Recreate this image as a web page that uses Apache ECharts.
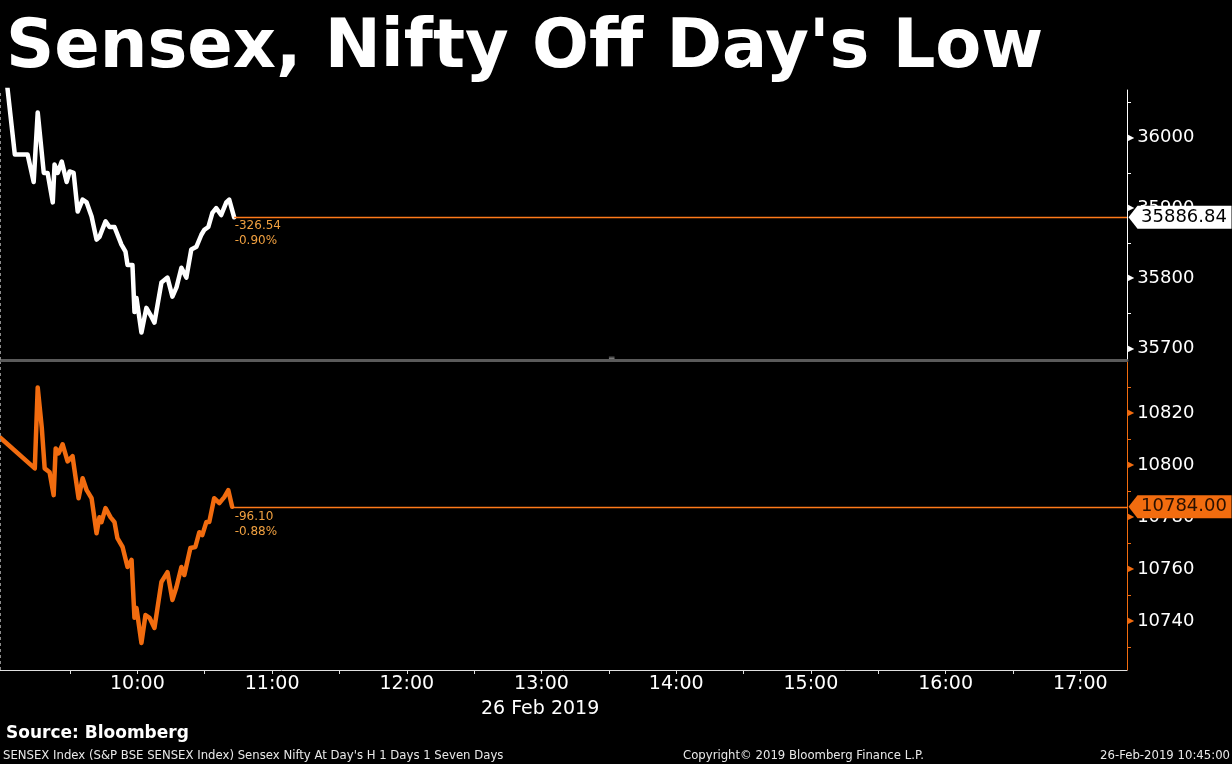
<!DOCTYPE html>
<html>
<head>
<meta charset="utf-8">
<script src="https://cdn.jsdelivr.net/npm/echarts@6/dist/echarts.min.js"></script>
<style>
html,body{margin:0;padding:0;background:#000;}
#c{width:1232px;height:764px;}
</style>
</head>
<body>
<div id="c"></div>
<script>
// ---------- data ----------
const titleText = "Sensex, Nifty Off Day's Low";
const dateText = "26 Feb 2019";
const sourceText = "Source: Bloomberg";
const footerLeft = "SENSEX Index (S&P BSE SENSEX Index) Sensex Nifty At Day's H 1 Days 1 Seven Days";
const footerMid = "Copyright\u00a9 2019 Bloomberg Finance L.P.";
const footerRight = "26-Feb-2019 10:45:00";

const axisStart = "08:58:48";
const axisEnd = "17:20:48";
const dayMarker = "08:59:00";
const hourLabels = ["10:00","11:00","12:00","13:00","14:00","15:00","16:00","17:00"];
const halfHourTicks = ["09:30","10:00","10:30","11:00","11:30","12:00","12:30","13:00","13:30","14:00","14:30","15:00","15:30","16:00","16:30","17:00"];

const sensexTickLabels = [35700, 35800, 35900, 36000];
const sensexMinorTicks = [35700, 35750, 35800, 35850, 35900, 35950, 36000, 36050];
const sensexRange = [35683.8, 36067.9];
const niftyTickLabels = [10740, 10760, 10780, 10800, 10820];
const niftyMinorTicks = [10730, 10740, 10750, 10760, 10770, 10780, 10790, 10800, 10810, 10820, 10830];
const niftyRange = [10721.1, 10839.8];

const sensexTimes = ['09:01:48','09:05:24','09:11:06','09:13:48','09:15:36','09:18:18','09:20:00','09:22:18','09:23:06','09:24:30','09:26:18','09:28:30','09:29:48','09:31:36','09:33:24','09:35:36','09:37:24','09:39:36','09:41:48','09:43:06','09:45:48','09:47:36','09:49:48','09:52:54','09:54:42','09:55:36','09:57:48','09:58:42','09:59:36','10:01:48','10:04:00','10:06:18','10:07:36','10:10:42','10:13:24','10:15:36','10:17:24','10:19:36','10:21:48','10:24:00','10:26:18','10:28:30','10:29:48','10:31:36','10:33:24','10:35:06','10:37:18','10:39:36','10:40:54','10:43:06'];
const sensexValues = [36080,35976,35976,35937,36036,35950,35950,35908,35962,35950,35966,35937,35952,35950,35895,35912,35908,35888,35855,35859,35881,35873,35873,35848,35838,35819,35819,35752,35772,35723,35758,35745,35737,35794,35801,35774,35787,35815,35801,35841,35845,35862,35869,35873,35893,35900,35890,35908,35912,35886.84];
const sensexChange = "-326.54";
const sensexPct = "-0.90%";

const niftyTimes = ['08:58:42','09:14:18','09:15:36','09:17:24','09:18:42','09:20:54','09:22:42','09:23:36','09:24:54','09:26:42','09:28:54','09:31:06','09:33:48','09:35:36','09:37:24','09:39:36','09:41:48','09:43:06','09:44:00','09:45:48','09:48:00','09:49:48','09:51:06','09:53:24','09:55:36','09:57:24','09:58:42','09:59:36','10:01:48','10:03:36','10:05:24','10:07:36','10:10:42','10:13:24','10:15:36','10:17:24','10:19:36','10:20:54','10:23:36','10:25:48','10:27:36','10:28:54','10:30:42','10:32:00','10:34:12','10:36:30','10:38:42','10:40:30','10:42:12'];
const niftyValues = [10810.8,10798.8,10830.0,10814.6,10798.8,10797.3,10788.5,10806.5,10804.6,10808.1,10801.5,10803.5,10787.3,10795.0,10790.4,10787.3,10773.8,10780.0,10778.1,10783.5,10780.0,10778.1,10771.9,10768.5,10760.8,10763.5,10741.2,10745.0,10731.5,10742.3,10741.2,10737.3,10755.0,10758.8,10748.1,10753.1,10760.8,10757.7,10768.1,10768.5,10774.2,10773.1,10778.1,10778.1,10787.3,10785.4,10787.7,10790.4,10784.0];
const niftyChange = "-96.10";
const niftyPct = "-0.88%";

// ---------- helpers ----------
function toMin(t){ const p = t.split(':').map(Number); return p[0]*60 + p[1] + (p[2]||0)/60; }
const xMin = toMin(axisStart), xMax = toMin(axisEnd);
function pairs(ts, vs){ return ts.map((t,i)=>[toMin(t), vs[i]]); }
function fmtHour(v){ const h = Math.floor(v/60), m = Math.round(v%60); return (h<10?'0':'')+h+':'+(m<10?'0':'')+m; }

const FONT = 'DejaVu Sans';
const ORANGE = '#f26c0f';
const REFLINE = '#ff7a1a';
const ANNO = '#f0a040';
const ARROW = 'path://M0,11 L9,0 L103,0 L103,22 L9,22 Z';

function yAxisCfg(grid, range, labels, ticks, color){
  return {
    type:'value', gridIndex:grid, position:'right', min:range[0], max:range[1],
    axisLine:{show:true, onZero:false, lineStyle:{color:color, width:1}},
    axisTick:{show:true, length:4, customValues:ticks, lineStyle:{color:color}},
    splitLine:{show:false},
    axisLabel:{
      show:true, margin:1, customValues:labels,
      formatter: v => '{t|\u25B6}{v|' + v + '}',
      rich:{
        t:{color:color, fontSize:8, fontFamily:FONT, verticalAlign:'middle'},
        v:{color:'#ffffff', fontSize:18, fontFamily:FONT, padding:[0,0,0,3], verticalAlign:'middle'}
      }
    }
  };
}

function lineSeries(xi, data, color, change, pct, boxColor, boxText, annoPos, range){
  const last = data[data.length-1];
  return {
    type:'line', xAxisIndex:xi, yAxisIndex:xi, data:data, showSymbol:false, clip:true,
    lineStyle:{color:color, width:4.5, join:'round', cap:'round'},
    itemStyle:{color:color},
    z:3,
    markLine:{
      silent:true, symbol:'none', animation:false,
      label:{show:false},
      lineStyle:{color:REFLINE, width:1.3, type:'solid', opacity:1},
      emphasis:{disabled:true},
      data:[
        [{coord:[last[0], last[1]], lineStyle:{color:REFLINE, width:1.3, type:'solid', opacity:1}},
         {coord:[xMax, last[1]]}],
        [{coord:[toMin(dayMarker), range[0]], lineStyle:{color:'#8a8a8a', width:1, type:[3,3]}},
         {coord:[toMin(dayMarker), range[1]]}]
      ]
    },
    markPoint:{
      silent:true, animation:false,
      data:[
        {coord:[last[0], last[1]], symbol:'circle', symbolSize:1, itemStyle:{color:'rgba(0,0,0,0)'},
         label:{show:true, position:annoPos, align:'left', verticalAlign:'top',
                formatter: change + '\n' + pct, color:ANNO, fontSize:12, lineHeight:15, fontFamily:FONT}},
        {coord:[xMax, last[1]], symbol:ARROW, symbolSize:[103,23], symbolOffset:[53,0],
         itemStyle:{color:boxColor},
         label:{show:true, position:'inside', offset:[4,0], formatter: last[1].toFixed(2),
                color:boxText, fontSize:18, fontFamily:FONT}}
      ]
    }
  };
}

const chart = echarts.init(document.getElementById('c'), null, {renderer:'canvas'});
chart.setOption({
  backgroundColor:'#000',
  animation:false,
  title:[
    {text:titleText, left:6, top:16, padding:0, textStyle:{color:'#fff', fontSize:67, lineHeight:67, fontWeight:'bold', fontFamily:FONT}},
    {text:dateText, left:481, top:699, padding:0, textStyle:{color:'#fff', fontSize:19, lineHeight:20, fontWeight:'normal', fontFamily:FONT}},
    {text:sourceText, left:6, top:725, padding:0, textStyle:{color:'#fff', fontSize:17, lineHeight:18, fontWeight:'bold', fontFamily:FONT}},
    {text:footerLeft, left:3, top:749, padding:0, textStyle:{color:'#e8e8e8', fontSize:11.7, lineHeight:13, fontWeight:'normal', fontFamily:FONT}},
    {text:footerMid, left:683, top:749, padding:0, textStyle:{color:'#e8e8e8', fontSize:11.7, lineHeight:13, fontWeight:'normal', fontFamily:FONT}},
    {text:footerRight, right:2, top:749, padding:0, textStyle:{color:'#e8e8e8', fontSize:11.7, lineHeight:13, fontWeight:'normal', fontFamily:FONT}}
  ],
  grid:[
    {left:0, right:105, top:90, height:270, containLabel:false},
    {left:0, right:105, top:362, height:308, containLabel:false}
  ],
  xAxis:[
    {type:'value', gridIndex:0, min:xMin, max:xMax, position:'bottom',
     axisLine:{show:true, onZero:false, lineStyle:{color:'#5a5a5a', width:3}},
     axisTick:{show:false}, axisLabel:{show:false}, splitLine:{show:false}},
    {type:'value', gridIndex:1, min:xMin, max:xMax, position:'bottom',
     axisLine:{show:true, onZero:false, lineStyle:{color:'#e0e0e0', width:1}},
     axisTick:{show:true, length:4, customValues:halfHourTicks.map(toMin), lineStyle:{color:'#e0e0e0'}},
     axisLabel:{show:true, margin:5, customValues:hourLabels.map(toMin), formatter:v=>fmtHour(v),
                color:'#fff', fontSize:19, fontFamily:FONT},
     splitLine:{show:false}}
  ],
  yAxis:[
    yAxisCfg(0, sensexRange, sensexTickLabels, sensexMinorTicks, '#ffffff'),
    yAxisCfg(1, niftyRange, niftyTickLabels, niftyMinorTicks, ORANGE)
  ],
  graphic:[
    {type:'text', left:609, top:354, z:10, style:{text:'\u2550', fill:'#9a9a9a', fontSize:9, fontFamily:FONT}}
  ],
  series:[
    lineSeries(0, pairs(sensexTimes, sensexValues), '#ffffff', sensexChange, sensexPct, '#ffffff', '#000000', [1,2], sensexRange),
    lineSeries(1, pairs(niftyTimes, niftyValues), ORANGE, niftyChange, niftyPct, ORANGE, '#2a1000', [3,3], niftyRange)
  ]
});
</script>
</body>
</html>
